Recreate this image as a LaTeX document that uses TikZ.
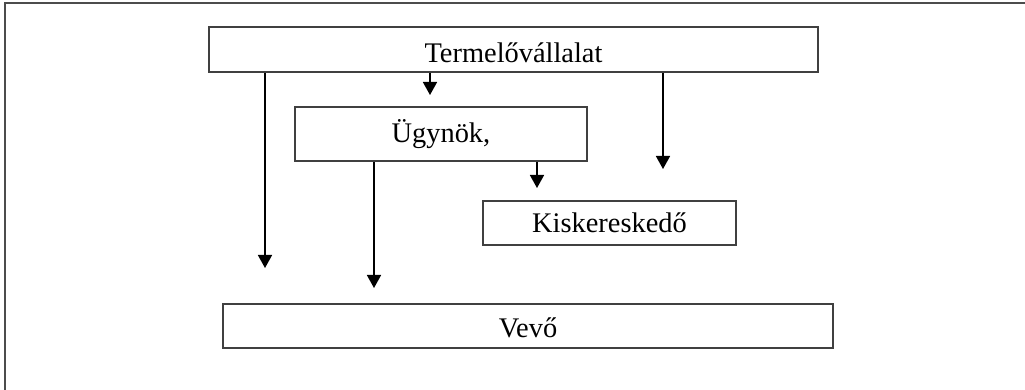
\documentclass[tikz,border=0pt]{standalone}
\usepackage{fontspec}
\setmainfont{Liberation Serif}
\usepackage{tikz}
\usetikzlibrary{arrows.meta}

\begin{document}
\begin{tikzpicture}
[x=0.5pt,y=-0.5pt,>={Triangle[width=7pt,length=6.5pt]},
box/.style={rectangle,draw=black!75,line width=0.8pt,inner sep=0pt,
  font=\fontsize{14.2}{16}\selectfont},
arr/.style={->,line width=0.8pt}]
\useasboundingbox (0,0) rectangle (1025,390);
\draw[black!70,line width=0.8pt] (5,390) |- (1025,3);

\node[box,minimum width=304.5pt,minimum height=22.5pt,text height=15pt,text depth=1.5pt] at (513.5,49.5) (termelo) {Termelővállalat};
\node[box,minimum width=146pt,minimum height=27pt]     at (441,134)   (ugynok)  {Ügynök,};
\node[box,minimum width=126.5pt,minimum height=22pt]   at (609.5,223) (kisker)  {Kiskereskedő};
\node[box,minimum width=305pt,minimum height=22pt,text height=12.5pt,text depth=0.5pt] at (528,326) (vevo) {Vevő};

\coordinate (t1) at (265,268);
\coordinate (t2) at (430,95);
\coordinate (t3) at (663,169);
\coordinate (u1) at (374,288);
\coordinate (u2) at (537,188);

\draw [arr] (termelo.south -| t1) -- (t1);
\draw [arr] (termelo.south -| t2) -- (t2);
\draw [arr] (termelo.south -| t3) -- (t3);
\draw [arr] (ugynok.south -| u1) -- (u1);
\draw [arr] (ugynok.south -| u2) -- (u2);
\end{tikzpicture}
\end{document}
